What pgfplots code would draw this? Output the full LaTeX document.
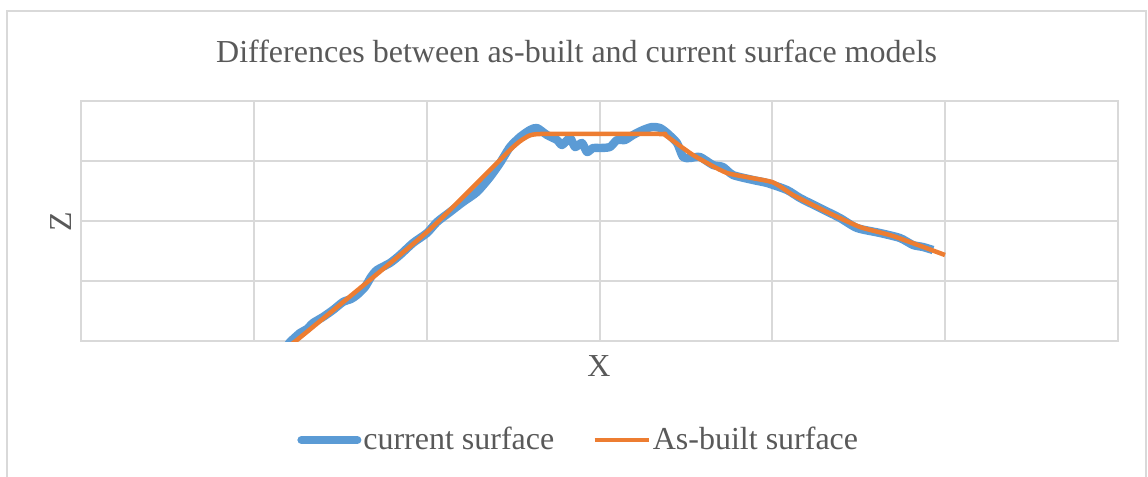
\documentclass[border=0pt]{standalone}
\usepackage{fontspec}
\setmainfont{Liberation Serif}
\usepackage{pgfplots}
\pgfplotsset{compat=1.18}
\definecolor{xlblue}{HTML}{5B9BD5}
\definecolor{xlorange}{HTML}{ED7D31}
\definecolor{xltext}{HTML}{595959}
\definecolor{xlgrid}{HTML}{D9D9D9}
\begin{document}
\begin{tikzpicture}
% frame of the chart area
\draw[xlgrid, line width=1bp] (-37bp,-72bp) -- (-37bp,165bp) -- (532.5bp,165bp) -- (532.5bp,-72bp);
\begin{axis}[
  at={(0,0)}, anchor=south west,
  scale only axis, width=518.5bp, height=120bp,
  xmin=0, xmax=1037, ymin=0, ymax=240,
  xtick={0,172.83,345.67,518.5,691.33,864.17,1037},
  ytick={0,60,120,180,240},
  xticklabels={}, yticklabels={},
  major tick length=0pt,
  grid=major,
  grid style={xlgrid, line width=1bp},
  axis line style={xlgrid, line width=1bp},
  clip mode=individual,
  font=\fontsize{16bp}{19bp}\selectfont,
  every axis plot/.append style={line join=round},
  legend columns=2,
  legend style={at={(axis description cs:0.48,-0.4125)}, anchor=center,
    draw=none, fill=none, text=xltext, font=\fontsize{16bp}{19bp}\selectfont,
    /tikz/every even column/.append style={column sep=18bp},
    nodes={inner xsep=1bp}},
]
\addplot[xlblue, line width=4.2bp, smooth, tension=0.4,
  legend image code/.code={\draw[xlblue, line width=4bp, line cap=round] (0bp,0bp) -- (28bp,0bp);}]
coordinates {
(207,-4)(209,-1)(219,8)(226,12)(232,18)(242,24)(252,31)(262,39)(270,42)(276,46)
(284,54)(290,64)(296,71)(309,78)(319,86)(332,98)(346,108)(356,119)(369,129)
(382,139)(396,149)(409,164)(419,178)(429,194)(439,204)(449,211)(456,213)
(466,206)(476,201)(481,196)(489,203)(494,194)(501,198)(506,189)(512,193)
(519,193)(529,194)(536,201)(544,201)(552,206)(562,211)(571,214)(579,213)
(586,208)(596,198)(602,184)(609,183)(619,184)(632,176)(642,174)(652,166)
(672,161)(686,158)(706,151)(719,143)(739,133)(759,123)(776,113)(799,108)
(819,103)(832,96)(842,94)(852,91)
};
\addlegendentry{current surface}
\addplot[xlorange, line width=2.25bp, smooth, tension=0.3,
  legend image code/.code={\draw[xlorange, line width=2.25bp] (0bp,0bp) -- (27bp,0bp);}]
coordinates {
(207,-4)(216,1)(346,109)(429,191)(444,203)(459,207)(579,207)(584,206)
(612,186)(646,168)(691,159)(712,146)(746,129)(779,114)(812,105)(864,86)
};
\addlegendentry{As-built surface}
\node[anchor=base, text=xltext] at (axis description cs:0.478,1.1625)
  {Differences between as-built and current surface models};
\node[anchor=base, text=xltext] at (axis description cs:0.4995,-0.146) {X};
\node[anchor=base, rotate=90, text=xltext] at (axis description cs:-0.0096,0.496) {Z};
\end{axis}
\pgfresetboundingbox
\path[use as bounding box] (-40.5bp,-68bp) rectangle (533.5bp,170.5bp);
\end{tikzpicture}
\end{document}
